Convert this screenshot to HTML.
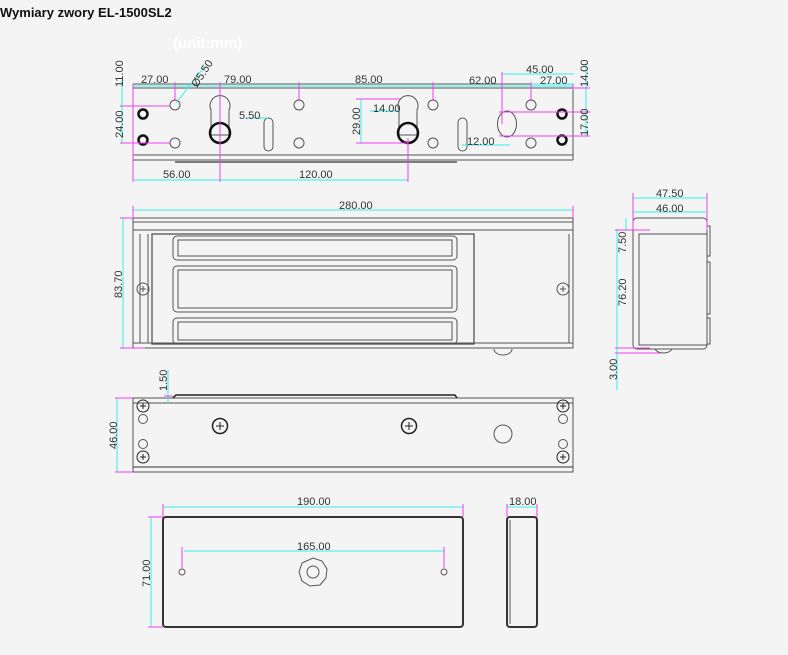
<!DOCTYPE html>
<html><head><meta charset="utf-8"><style>
html,body{margin:0;padding:0;background:#f4f4f4;width:788px;height:655px;overflow:hidden}
svg{position:absolute;left:0;top:0}
.t{font-family:"Liberation Sans",sans-serif;font-size:11px;fill:#333}
</style></head><body>
<svg width="788" height="655" viewBox="0 0 788 655">
<text x="0" y="17" font-family="Liberation Sans,sans-serif" font-size="13" font-weight="bold" fill="#111">Wymiary zwory EL-1500SL2</text>
<text x="173" y="48" font-family="Liberation Sans,sans-serif" font-size="15" font-weight="bold" fill="#fff">(unit:mm)</text>

<g fill="none" stroke="#555" stroke-width="1">
<!-- TOP VIEW -->
<line x1="133" y1="84" x2="573" y2="84"/><line x1="133" y1="88" x2="573" y2="88"/>
<line x1="133" y1="84" x2="133" y2="160"/><line x1="573" y1="84" x2="573" y2="160"/>
<line x1="133" y1="155" x2="573" y2="155"/><line x1="133" y1="160" x2="573" y2="160"/>
<line x1="175" y1="162" x2="457" y2="162" stroke-width="1.5"/>
<circle cx="175" cy="105" r="5"/><circle cx="175" cy="143" r="5"/>
<circle cx="299" cy="105" r="5"/><circle cx="299" cy="143" r="5"/>
<circle cx="433" cy="105" r="5"/><circle cx="433" cy="143" r="5"/>
<circle cx="531" cy="105" r="5"/><circle cx="531" cy="143" r="5"/>
<circle cx="143" cy="114" r="4.5" stroke="#111" stroke-width="2.5"/><circle cx="143" cy="140" r="4.5" stroke="#111" stroke-width="2.5"/>
<circle cx="562" cy="114" r="4.5" stroke="#111" stroke-width="2.5"/><circle cx="562" cy="140" r="4.5" stroke="#111" stroke-width="2.5"/>
<path d="M211 110 A10 10 0 1 1 229 110 L229 135 L211 135 Z"/>
<circle cx="220" cy="133" r="10" stroke="#111" stroke-width="2.5"/>
<path d="M399 110 A10 10 0 1 1 417 110 L417 135 L399 135 Z"/>
<circle cx="408" cy="133" r="10" stroke="#111" stroke-width="2.5"/>
<rect x="264" y="118" width="9" height="33" rx="4.5"/>
<rect x="458" y="118" width="9" height="33" rx="4.5"/>
<ellipse cx="507" cy="124" rx="9.5" ry="13"/>
<!-- FRONT VIEW -->
<rect x="133" y="218" width="440" height="130"/>
<line x1="133" y1="222" x2="573" y2="222"/><line x1="133" y1="230" x2="573" y2="230"/>
<line x1="133" y1="343" x2="573" y2="343"/>
<line x1="140" y1="234" x2="140" y2="343"/><line x1="148" y1="234" x2="148" y2="343"/>
<line x1="569" y1="234" x2="569" y2="343"/>
<rect x="152" y="234" width="322" height="110" stroke-width="1.3"/>
<rect x="173" y="236" width="284" height="24" rx="4"/><rect x="178" y="240" width="274" height="16"/>
<rect x="173" y="266" width="284" height="46" rx="4"/><rect x="178" y="270" width="274" height="38"/>
<rect x="173" y="318" width="284" height="26" rx="4"/><rect x="178" y="322" width="274" height="18"/>
<circle cx="143" cy="289" r="6"/><path d="M140 289h6M143 286v6"/>
<circle cx="563" cy="289" r="6"/><path d="M560 289h6M563 286v6"/>
<path d="M494 349 A9 6 0 0 0 512 349"/>
<!-- SIDE VIEW -->
<rect x="633" y="218" width="74" height="131" rx="4"/>
<rect x="639" y="234" width="68" height="111"/>
<path d="M707 226h3v30h-3M707 262h3v52h-3M707 318h3v26h-3"/>
<path d="M655 349 A9 6 0 0 0 672 349"/>
<!-- BOTTOM VIEW -->
<rect x="133" y="398" width="440" height="74"/>
<line x1="133" y1="403" x2="573" y2="403"/><line x1="133" y1="467" x2="573" y2="467" stroke-width="1.3"/>
<path d="M173 398 L176 395 L455 395 L457 398" stroke="#222" stroke-width="1.5"/>
<g stroke="#222">
<circle cx="143" cy="406" r="6"/><path d="M140 406h6M143 403v6"/>
<circle cx="143" cy="457" r="6"/><path d="M140 457h6M143 454v6"/>
<circle cx="563" cy="406" r="6"/><path d="M560 406h6M563 403v6"/>
<circle cx="563" cy="457" r="6"/><path d="M560 457h6M563 454v6"/>
<circle cx="220" cy="426" r="7.5" stroke-width="1.5"/><path d="M216 426h8M220 422v8"/>
<circle cx="409" cy="426" r="7.5" stroke-width="1.5"/><path d="M405 426h8M409 422v8"/>
</g>
<circle cx="143" cy="419" r="4.5"/><circle cx="143" cy="444" r="4.5"/>
<circle cx="563" cy="419" r="4.5"/><circle cx="563" cy="444" r="4.5"/>
<circle cx="503" cy="434" r="9"/>
<!-- ARMATURE -->
<rect x="163" y="517" width="300" height="110" rx="3" stroke="#333" stroke-width="2"/>
<rect x="507" y="517" width="30" height="110" rx="3" stroke="#333" stroke-width="2"/>
<line x1="510" y1="520" x2="510" y2="624"/>
<circle cx="182" cy="572" r="3"/><circle cx="444" cy="572" r="3"/>
<polygon points="313,558 322,561 327,569 326,578 320,585 310,586 302,581 299,572 302,563"/>
<circle cx="313" cy="572" r="6"/>
</g>

<!-- dimension lines -->
<g stroke="#33eef0" stroke-width="1" fill="none">
<line x1="133" y1="86" x2="573" y2="86"/>
<line x1="133" y1="180" x2="408" y2="180"/>
<line x1="122" y1="80" x2="122" y2="143"/>
<line x1="176" y1="103" x2="205" y2="66"/>
<line x1="246" y1="118" x2="268" y2="118"/>
<line x1="370" y1="111" x2="400" y2="111"/>
<line x1="361" y1="99" x2="361" y2="143"/>
<line x1="462" y1="145" x2="510" y2="145"/>
<line x1="502" y1="74" x2="574" y2="74"/>
<line x1="530" y1="84" x2="574" y2="84"/>
<line x1="586" y1="63" x2="586" y2="136"/>
<line x1="133" y1="210" x2="573" y2="210"/>
<line x1="123" y1="218" x2="123" y2="348"/>
<line x1="633" y1="198" x2="707" y2="198"/>
<line x1="633" y1="212" x2="706" y2="212"/>
<line x1="626" y1="218" x2="626" y2="231"/>
<line x1="617" y1="229" x2="617" y2="390"/>
<line x1="168" y1="370" x2="168" y2="403"/>
<line x1="117" y1="398" x2="117" y2="472"/>
<line x1="163" y1="507" x2="463" y2="507"/>
<line x1="507" y1="507" x2="537" y2="507"/>
<line x1="184" y1="551" x2="444" y2="551"/>
<line x1="151" y1="517" x2="151" y2="627"/>
</g>
<g stroke="#f040f0" stroke-width="1" fill="none">
<line x1="133" y1="84" x2="133" y2="182"/><line x1="175" y1="82" x2="175" y2="101"/>
<line x1="220" y1="82" x2="220" y2="182"/><line x1="299" y1="82" x2="299" y2="101"/>
<line x1="433" y1="82" x2="433" y2="101"/><line x1="408" y1="138" x2="408" y2="182"/>
<line x1="573" y1="84" x2="573" y2="90"/><line x1="531" y1="82" x2="531" y2="101"/>
<line x1="502" y1="72" x2="502" y2="124"/>
<line x1="120" y1="106" x2="170" y2="106"/><line x1="120" y1="143" x2="170" y2="143"/>
<line x1="356" y1="99" x2="400" y2="99"/><line x1="356" y1="143" x2="408" y2="143"/>
<line x1="499" y1="112" x2="590" y2="112"/><line x1="499" y1="136" x2="590" y2="136"/>
<line x1="573" y1="88" x2="590" y2="88"/>
<line x1="133" y1="206" x2="133" y2="218"/><line x1="573" y1="206" x2="573" y2="218"/>
<line x1="120" y1="218" x2="133" y2="218"/><line x1="120" y1="348" x2="145" y2="348"/>
<line x1="633" y1="193" x2="633" y2="230"/><line x1="707" y1="193" x2="707" y2="230"/>
<line x1="615" y1="230" x2="650" y2="230"/><line x1="615" y1="348" x2="650" y2="348"/>
<line x1="615" y1="353" x2="660" y2="353"/>
<line x1="164" y1="396" x2="173" y2="396"/>
<line x1="115" y1="398" x2="133" y2="398"/><line x1="115" y1="472" x2="133" y2="472"/>
<line x1="163" y1="504" x2="163" y2="517"/><line x1="463" y1="504" x2="463" y2="517"/>
<line x1="507" y1="504" x2="507" y2="517"/><line x1="537" y1="504" x2="537" y2="517"/>
<line x1="148" y1="517" x2="163" y2="517"/><line x1="148" y1="627" x2="163" y2="627"/>
<line x1="182" y1="547" x2="182" y2="568"/><line x1="444" y1="547" x2="444" y2="568"/>
</g>

<g class="t">
<text x="141" y="83">27.00</text>
<text x="224" y="83">79.00</text>
<text x="355" y="83">85.00</text>
<text x="469" y="84">62.00</text>
<text x="526" y="73">45.00</text>
<text x="540" y="84">27.00</text>
<text x="239" y="119">5.50</text>
<text x="373" y="112">14.00</text>
<text x="467" y="145">12.00</text>
<text x="163" y="178">56.00</text>
<text x="299" y="178">120.00</text>
<text x="339" y="209">280.00</text>
<text x="656" y="197">47.50</text>
<text x="656" y="212">46.00</text>
<text x="297" y="505">190.00</text>
<text x="509" y="505">18.00</text>
<text x="297" y="550">165.00</text>
<text transform="translate(123,87) rotate(-90)">11.00</text>
<text transform="translate(123,138) rotate(-90)">24.00</text>
<text transform="translate(360,135) rotate(-90)">29.00</text>
<text transform="translate(588,87) rotate(-90)">14.00</text>
<text transform="translate(588,136) rotate(-90)">17.00</text>
<text transform="translate(197,88) rotate(-57)">Ø5.50</text>
<text transform="translate(122,298) rotate(-90)">83.70</text>
<text transform="translate(626,253) rotate(-90)">7.50</text>
<text transform="translate(626,306) rotate(-90)">76.20</text>
<text transform="translate(617,380) rotate(-90)">3.00</text>
<text transform="translate(167,391) rotate(-90)">1.50</text>
<text transform="translate(117,449) rotate(-90)">46.00</text>
<text transform="translate(150,587) rotate(-90)">71.00</text>
</g>
</svg>
</body></html>
